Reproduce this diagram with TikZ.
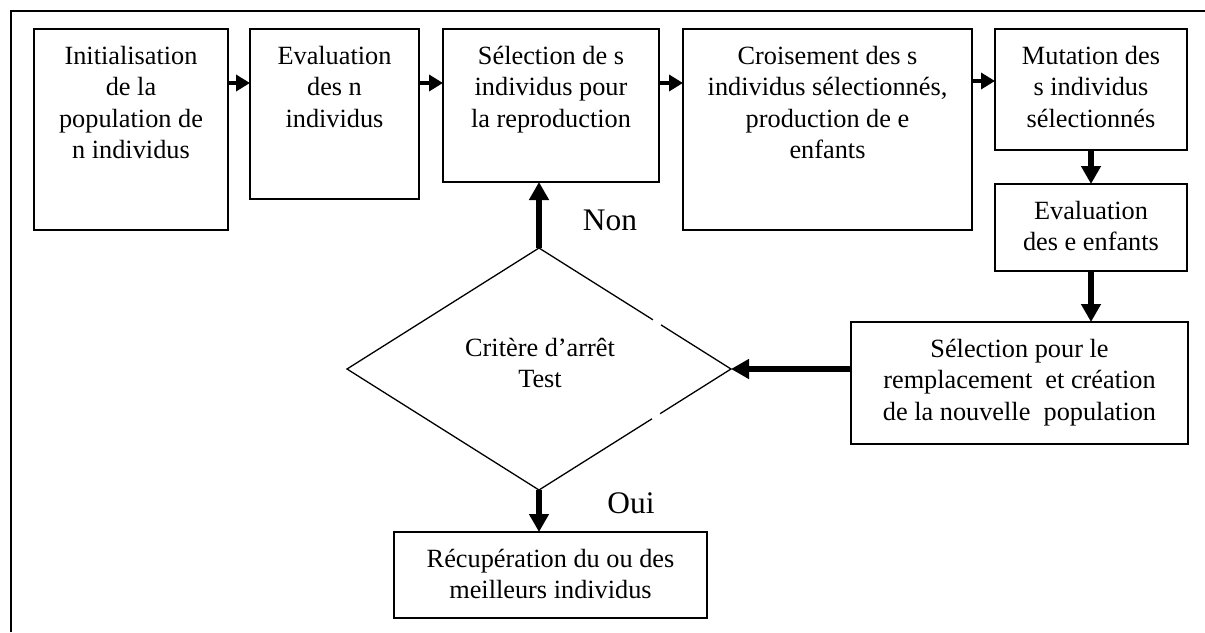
\documentclass[tikz,border=0pt]{standalone}
\usepackage{fontspec}
\setmainfont{Liberation Serif}
\usetikzlibrary{arrows.meta,shapes.geometric,calc}
\newcommand\boxfont{\fontsize{26.3}{31.5}\selectfont}
\newcommand\labfont{\fontsize{31.4}{36}\selectfont}
\begin{document}
\begin{tikzpicture}[x=1pt,y=-1pt,
  stepbox/.style={draw, line width=1.6pt, inner sep=0pt, outer sep=0pt, anchor=north west},
  plaintext/.style={anchor=north, inner sep=0pt, outer sep=0pt, align=center, font=\boxfont},
  boxtext/.style={plaintext, yshift=-13pt},
  testshape/.style={draw, diamond, line width=1.3pt, inner sep=0pt, outer sep=0pt,
    minimum width=384pt, minimum height=242pt},
  answer/.style={anchor=base, inner sep=0pt, font=\labfont},
  flowsmall/.style={line width=4pt, -{Triangle[length=14pt,width=16pt]}},
  flowbig/.style={line width=5.5pt, -{Triangle[length=18pt,width=19pt]}},
  gap/.style={draw=white, line width=3.5pt}]
\useasboundingbox (0,0) rectangle (1205,632);

% frame around the figure
\coordinate (frameA) at (11,632);
\coordinate (frameB) at (11,11);
\coordinate (frameC) at (1205,11);
\draw[line width=1.6pt] (frameA) -- (frameB) -- (frameC);

% process boxes
\node[stepbox, minimum width=194pt, minimum height=201pt] (init)   at (34,29)  {};
\node[stepbox, minimum width=169pt, minimum height=170pt] (evaln)  at (250,29) {};
\node[stepbox, minimum width=216pt, minimum height=153pt] (selrep) at (443,29) {};
\node[stepbox, minimum width=289pt, minimum height=201pt] (crois)  at (683,29) {};
\node[stepbox, minimum width=192pt, minimum height=121pt] (mut)    at (995,29) {};
\node[stepbox, minimum width=192pt, minimum height=87pt]  (evale)  at (995,184) {};
\node[stepbox, minimum width=337pt, minimum height=122pt] (remp)   at (851,322) {};
\node[stepbox, minimum width=313pt, minimum height=86pt]  (recup)  at (394,532) {};

% box labels
\node[boxtext] (tinit)   at (init.north)   {\strut Initialisation\\de la\\population de\\n individus};
\node[boxtext] (tevaln)  at (evaln.north)  {\strut Evaluation\\des n\\individus};
\node[boxtext] (tselrep) at (selrep.north) {\strut Sélection de s\\individus pour\\la reproduction};
\node[boxtext] (tcrois)  at (crois.north)  {\strut Croisement des s\\individus sélectionnés,\\production de e\\enfants};
\node[boxtext] (tmut)    at (mut.north)    {\strut Mutation des\\s individus\\sélectionnés};
\node[boxtext] (tevale)  at (evale.north)  {\strut Evaluation\\des e enfants};
\node[boxtext] (tremp)   at (remp.north)   {\strut Sélection pour le\\remplacement\ \ et création\\de la nouvelle\ \ population};
\node[boxtext] (trecup)  at (recup.north)  {\strut Récupération du ou des\\meilleurs individus};

% stopping test
\node[testshape] (test) at (539,369) {};
\draw[gap] ($(test.north)!0.594!(test.east)$) -- ($(test.north)!0.635!(test.east)$);
\draw[gap] ($(test.east)!0.37!(test.south)$) -- ($(test.east)!0.411!(test.south)$);
\node[plaintext] (ttest) at (540,334) {\strut Critère d’arrêt\\Test};

% answers
\node[answer] (non) at (610,230) {Non};
\node[answer] (oui) at (631,513) {Oui};

% flow along the top row
\draw[flowsmall] ($(init.north east)+(0,54)$) -- ($(evaln.north west)+(0,54)$);
\draw[flowsmall] ($(evaln.north east)+(0,54)$) -- ($(selrep.north west)+(0,54)$);
\draw[flowsmall] ($(selrep.north east)+(0,54)$) -- ($(crois.north west)+(0,54)$);
\draw[flowsmall] ($(crois.north east)+(0,52)$) -- ($(mut.north west)+(0,52)$);

% flow down the right column and back to the test
\draw[flowbig] (mut.south) -- (evale.north);
\draw[flowbig] (evale.south) -- (evale.south |- remp.north);
\draw[flowbig] (remp.west |- test.east) -- (test.east);
\draw[flowbig] (test.north) -- (test.north |- selrep.south);
\draw[flowbig] (test.south) -- (test.south |- recup.north);
\end{tikzpicture}
\end{document}
